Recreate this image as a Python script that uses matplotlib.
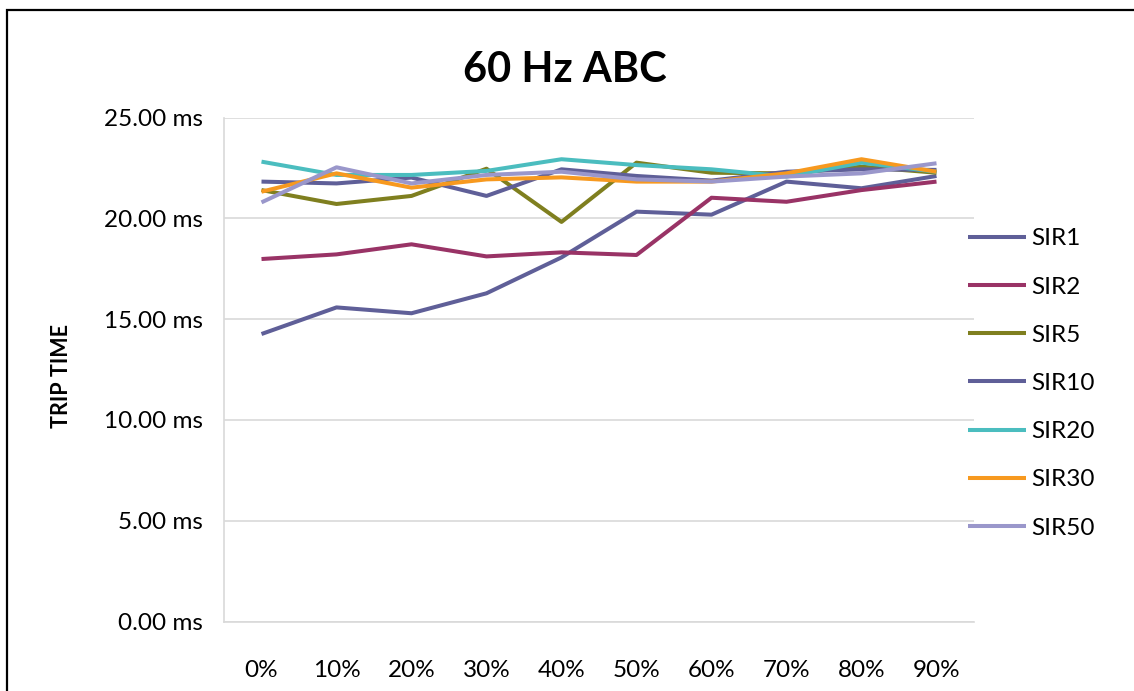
import numpy as np
import matplotlib
matplotlib.use('agg')
import matplotlib.pyplot as plt
from matplotlib.patches import Rectangle

plt.rcParams['font.family'] = ['Lato', 'DejaVu Sans']

# data
categories = ['0%', '10%', '20%', '30%', '40%', '50%', '60%', '70%', '80%', '90%']
sir1 = [14.26, 15.58, 15.29, 16.28, 18.06, 20.33, 20.18, 21.82, 21.49, 22.10]
sir2 = [17.98, 18.21, 18.71, 18.11, 18.31, 18.18, 21.02, 20.82, 21.40, 21.82]
sir5 = [21.40, 20.71, 21.11, 22.46, 19.82, 22.76, 22.26, 22.23, 22.56, 22.26]
sir10 = [21.82, 21.73, 22.02, 21.11, 22.43, 22.10, 21.87, 22.31, 22.43, 22.40]
sir20 = [22.81, 22.15, 22.15, 22.35, 22.93, 22.64, 22.43, 22.07, 22.76, 22.31]
sir30 = [21.32, 22.23, 21.52, 21.93, 22.03, 21.82, 21.82, 22.23, 22.93, 22.31]
sir50 = [20.79, 22.53, 21.73, 22.15, 22.31, 21.93, 21.82, 22.07, 22.23, 22.73]

series = [('SIR1', sir1, '#5f5f98'),
          ('SIR2', sir2, '#993366'),
          ('SIR5', sir5, '#7f7f1f'),
          ('SIR10', sir10, '#5f5f98'),
          ('SIR20', sir20, '#4bbdbf'),
          ('SIR30', sir30, '#f7991f'),
          ('SIR50', sir50, '#9a97cb')]

W, H = 1134, 691
fig = plt.figure(figsize=(W / 100, H / 100), dpi=100)
ax = fig.add_axes([224 / W, 1 - 621.5 / H, 750 / W, 504 / H])

x = np.arange(len(categories))
for name, vals, col in series:
    ax.plot(x, vals, color=col, lw=2.9, label=name, solid_capstyle='butt')

ax.set_xlim(-0.5, len(categories) - 0.5)
ax.set_ylim(0, 25)
ax.set_yticks(np.arange(0, 26, 5))
ax.set_yticklabels(['%.2f ms' % v for v in np.arange(0, 26, 5)])
ax.set_xticks(x)
ax.set_xticklabels(categories)
ax.tick_params(axis='both', length=0, labelsize=17.5)
ax.tick_params(axis='y', pad=15)
ax.tick_params(axis='x', pad=28)
ax.grid(axis='y', color='#d9d9d9', lw=1.2)
ax.set_axisbelow(True)
for s in ['top', 'right']:
    ax.spines[s].set_visible(False)
for s in ['left', 'bottom']:
    ax.spines[s].set_color('#d9d9d9')
    ax.spines[s].set_linewidth(1.2)

fig.text(565 / W, 1 - 70 / H, '60 Hz ABC', ha='center', va='center',
         fontsize=30, fontweight='bold')
fig.text(62 / W, 1 - 376 / H, 'TRIP TIME', ha='center', va='center',
         rotation=90, fontsize=15.5, fontweight='bold')

fig.legend(loc='center left', bbox_to_anchor=(968 / W, 1 - 383.5 / H),
           frameon=False, fontsize=17.5, handlelength=2.4, handletextpad=0.2,
           labelspacing=1.12, borderaxespad=0, borderpad=0)

# outer frame
fig.patches.append(Rectangle((7 / W, -0.1), 1.2, 1.1 - 10 / H,
                             transform=fig.transFigure, fill=False,
                             edgecolor='black', lw=1.6))

fig.savefig('out.png', dpi=100)
